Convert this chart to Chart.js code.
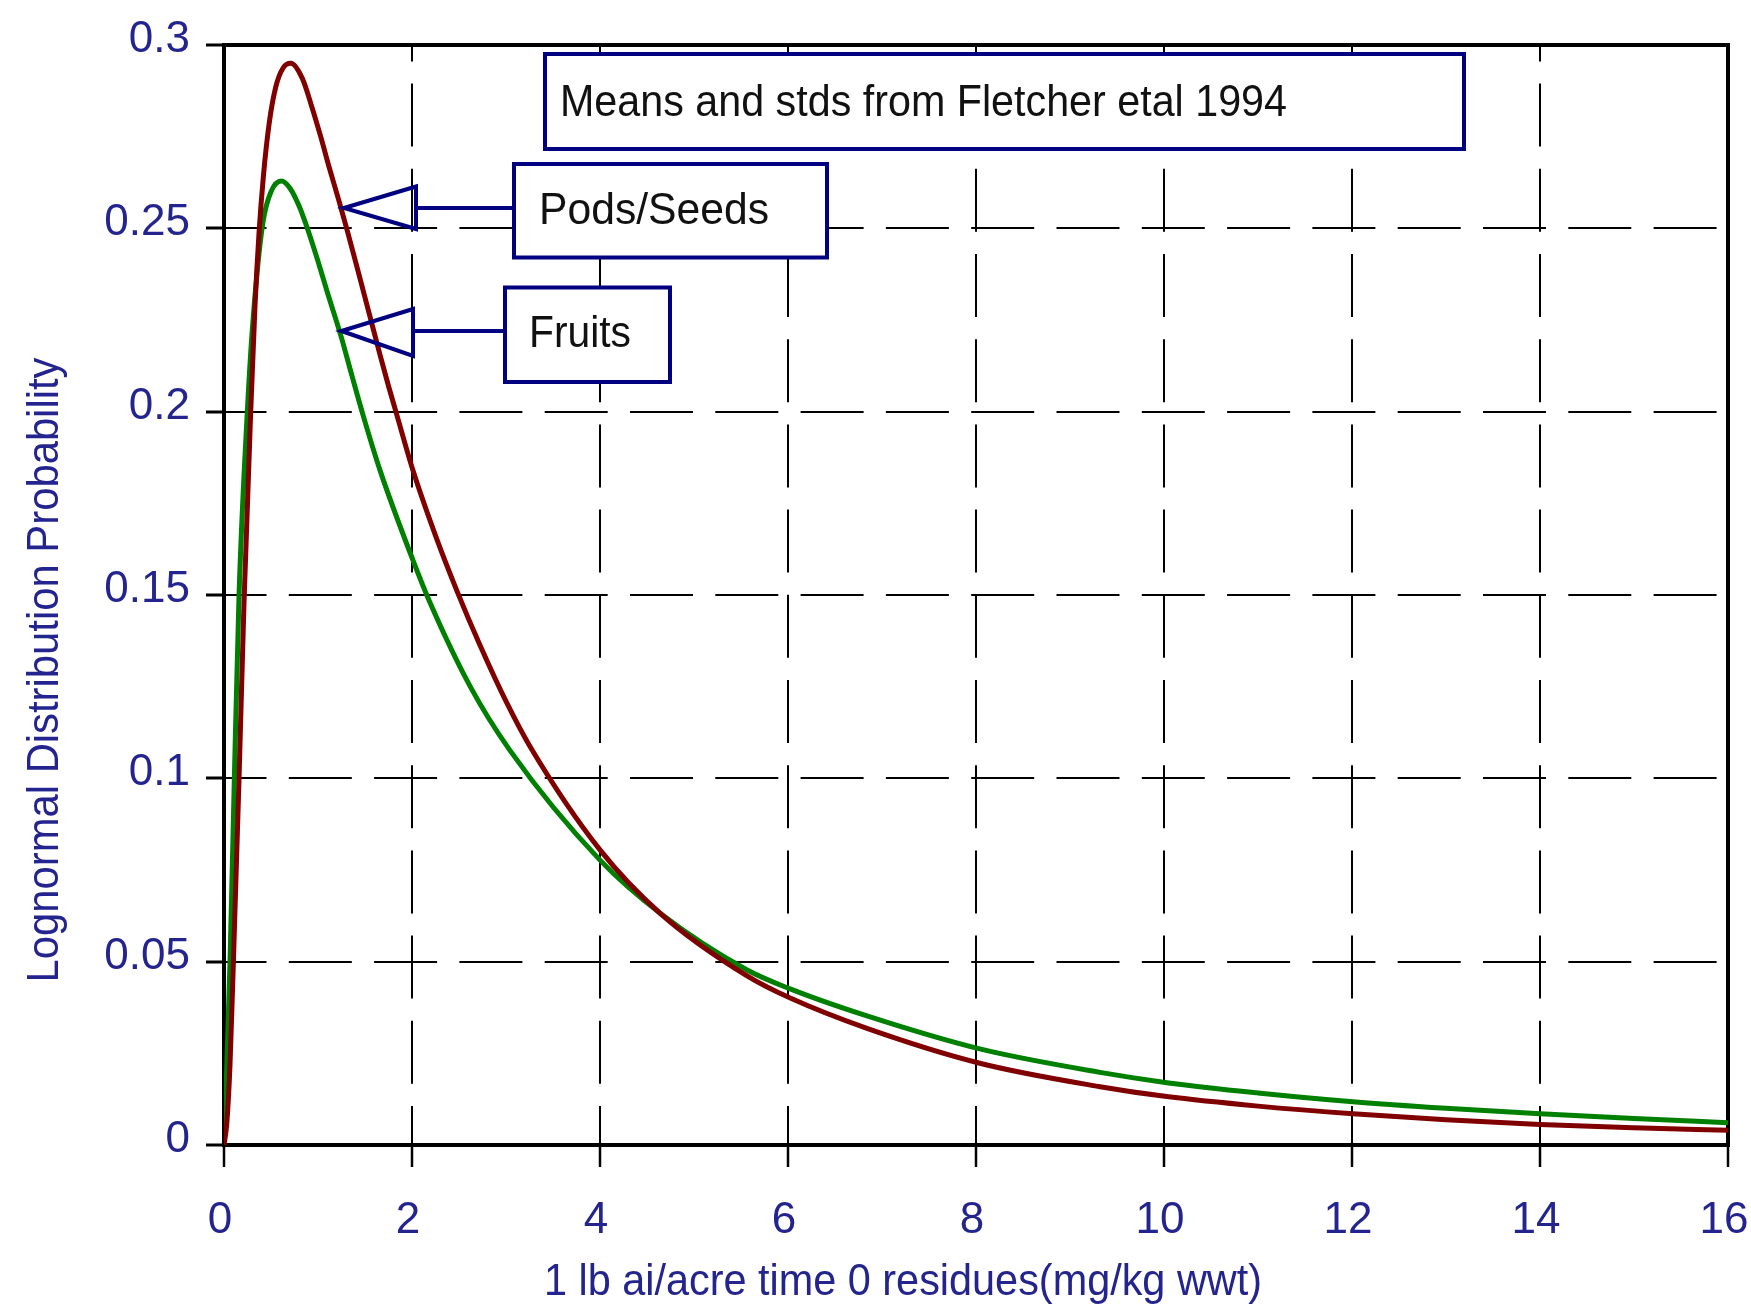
<!DOCTYPE html>
<html>
<head>
<meta charset="utf-8">
<script src="https://cdn.jsdelivr.net/npm/chart.js@4.4.1/dist/chart.umd.min.js"></script>
<style>
  html, body { margin: 0; padding: 0; background: #fff; }
  #wrap { width: 1751px; height: 1307px; }
</style>
</head>
<body>
<div id="wrap"><canvas id="lognormChart" width="1751" height="1307"></canvas></div>
<script>
// values
const podsX = [0, 0.03, 0.064, 0.10, 0.16, 0.213, 0.284, 0.33, 0.372, 0.42, 0.48, 0.55, 0.63, 0.71, 0.833, 0.929, 1.029, 1.117, 1.223, 1.312, 1.401, 1.489, 1.578, 1.667, 1.75, 1.84, 2.01, 2.26, 2.48, 2.72, 3.01, 3.26, 4.0, 4.64, 5.56, 6.03, 6.84, 8.04, 9.32, 10.03, 11, 12.01, 13, 14, 15, 16];
const podsY = [0, 0.006, 0.022, 0.050, 0.100, 0.148, 0.200, 0.229, 0.2485, 0.2645, 0.2785, 0.2885, 0.2938, 0.2950, 0.2909, 0.2836, 0.2750, 0.2668, 0.2575, 0.2493, 0.2408, 0.2322, 0.2235, 0.2148, 0.2070, 0.1990, 0.1840, 0.1655, 0.1510, 0.1365, 0.1205, 0.1085, 0.0805, 0.0632, 0.0462, 0.0400, 0.0318, 0.0223, 0.0159, 0.0132, 0.0106, 0.0085, 0.0069, 0.0056, 0.0047, 0.0040];

const fruitsX = [0, 0.028, 0.064, 0.11, 0.16, 0.248, 0.30, 0.36, 0.42, 0.50, 0.61, 0.70, 0.80, 0.90, 1.00, 1.10, 1.24, 1.36, 1.48, 1.66, 2.01, 2.19, 2.62, 3.04, 4.0, 4.64, 5.56, 6.03, 6.84, 8.04, 9.32, 10.03, 11, 12.01, 13, 14, 15, 16];
const fruitsY = [0, 0.020, 0.050, 0.100, 0.150, 0.200, 0.222, 0.240, 0.2525, 0.2600, 0.2629, 0.2610, 0.2560, 0.2490, 0.2410, 0.2325, 0.2210, 0.2099, 0.1990, 0.1840, 0.1595, 0.1480, 0.1250, 0.1077, 0.0777, 0.0632, 0.0478, 0.0425, 0.0352, 0.0262, 0.0198, 0.0170, 0.0142, 0.0118, 0.0100, 0.0085, 0.0072, 0.0061];

const xTicks = [0, 2, 4, 6, 8, 10, 12, 14, 16];
const yTicks = [0, 0.05, 0.1, 0.15, 0.2, 0.25, 0.3];

const NAVY = '#000080';
const LABEL = '#24248f';
const FONT = '"Liberation Sans", Arial, sans-serif';

function toPoints(xs, ys) {
    return xs.map((x, i) => ({ x: x, y: ys[i] }));
}

// frame, text boxes with arrows and the axis titles
const annotations = {
    id: 'annotations',
    beforeDatasetsDraw(chart) {
        const { ctx, chartArea: a } = chart;
        ctx.save();
        ctx.strokeStyle = '#000';
        ctx.lineWidth = 4;
        ctx.strokeRect(a.left, a.top, a.right - a.left, a.bottom - a.top);
        ctx.restore();
    },
    afterDraw(chart) {
        const ctx = chart.ctx;
        ctx.save();

        const boxes = [
            { x1: 545, y1: 54, x2: 1464, y2: 149, text: 'Means and stds from Fletcher etal 1994', tx: 560, ty: 116, w: 727 },
            { x1: 514, y1: 164, x2: 827, y2: 257.5, text: 'Pods/Seeds', tx: 539, ty: 224, w: 230 },
            { x1: 505, y1: 287.5, x2: 670, y2: 382, text: 'Fruits', tx: 529, ty: 346.5, w: 102 }
        ];
        ctx.font = '44px ' + FONT;
        ctx.textBaseline = 'alphabetic';
        ctx.textAlign = 'left';
        boxes.forEach(b => {
            ctx.fillStyle = '#fff';
            ctx.fillRect(b.x1, b.y1, b.x2 - b.x1, b.y2 - b.y1);
            ctx.strokeStyle = NAVY;
            ctx.lineWidth = 4;
            ctx.strokeRect(b.x1, b.y1, b.x2 - b.x1, b.y2 - b.y1);
            ctx.fillStyle = '#111';
            ctx.fillText(b.text, b.tx, b.ty, b.w);
        });

        // arrows: line from box, open triangle head
        const arrows = [
            { from: 514, base: 416, tip: 344, y: 208, top: 186.5, bottom: 229 },
            { from: 505, base: 413, tip: 341.5, y: 331, top: 309, bottom: 356 }
        ];
        ctx.strokeStyle = NAVY;
        ctx.lineWidth = 4;
        ctx.lineJoin = 'miter';
        arrows.forEach(ar => {
            ctx.beginPath();
            ctx.moveTo(ar.from, ar.y);
            ctx.lineTo(ar.base, ar.y);
            ctx.stroke();
            ctx.beginPath();
            ctx.moveTo(ar.tip, ar.y);
            ctx.lineTo(ar.base, ar.top);
            ctx.lineTo(ar.base, ar.bottom);
            ctx.closePath();
            ctx.stroke();
        });

        // axis titles
        ctx.fillStyle = LABEL;
        ctx.font = '44px ' + FONT;
        ctx.textAlign = 'center';
        ctx.fillText('1 lb ai/acre time 0 residues(mg/kg wwt)', 903, 1295, 718);

        ctx.translate(58, 670);
        ctx.rotate(-Math.PI / 2);
        ctx.fillText('Lognormal Distribution Probability', 0, 0, 625);
        ctx.restore();
    }
};

const ctx = document.getElementById('lognormChart').getContext('2d');
window.lognormChart = new Chart(ctx, {
    type: 'line',
    data: {
        datasets: [{
            label: 'Pods/Seeds',
            data: toPoints(podsX, podsY),
            borderColor: '#800000',
            borderWidth: 5,
            pointRadius: 0,
            cubicInterpolationMode: 'monotone',
            fill: false
        }, {
            label: 'Fruits',
            data: toPoints(fruitsX, fruitsY),
            borderColor: '#008000',
            borderWidth: 5,
            pointRadius: 0,
            cubicInterpolationMode: 'monotone',
            fill: false
        }]
    },
    options: {
        responsive: false,
        animation: false,
        devicePixelRatio: 1,
        layout: { padding: { top: 45, right: 23, left: 0, bottom: 0 } },
        plugins: {
            legend: { display: false },
            tooltip: { enabled: false }
        },
        scales: {
            x: {
                type: 'linear',
                min: 0,
                max: 16,
                afterBuildTicks(scale) {
                    scale.ticks = xTicks.map(v => ({ value: v }));
                },
                afterFit(scale) {
                    scale.height = 162;
                    scale.paddingLeft = 0;
                    scale.paddingRight = 0;
                },
                ticks: {
                    color: LABEL,
                    font: { family: FONT, size: 44 },
                    padding: 27,
                    labelOffset: -4,
                    maxRotation: 0,
                    autoSkip: false,
                    callback: v => String(v)
                },
                grid: {
                    color: '#000',
                    lineWidth: 2,
                    drawTicks: true,
                    tickLength: 22,
                    tickWidth: 2.5,
                    tickColor: '#000'
                },
                border: { display: false, dash: [63, 22.2], dashOffset: 46.6 }
            },
            y: {
                type: 'linear',
                min: 0,
                max: 0.3,
                afterBuildTicks(scale) {
                    scale.ticks = yTicks.map(v => ({ value: v }));
                },
                afterFit(scale) {
                    scale.width = 224;
                },
                ticks: {
                    color: LABEL,
                    font: { family: FONT, size: 44 },
                    padding: 16,
                    labelOffset: -5,
                    autoSkip: false,
                    callback: v => String(+v.toFixed(2))
                },
                grid: {
                    color: '#000',
                    lineWidth: 2,
                    drawTicks: true,
                    tickLength: 18,
                    tickWidth: 3,
                    tickColor: '#000'
                },
                border: { display: false, dash: [63, 22.3], dashOffset: 20.5 }
            }
        }
    },
    plugins: [annotations]
});
</script>
</body>
</html>
